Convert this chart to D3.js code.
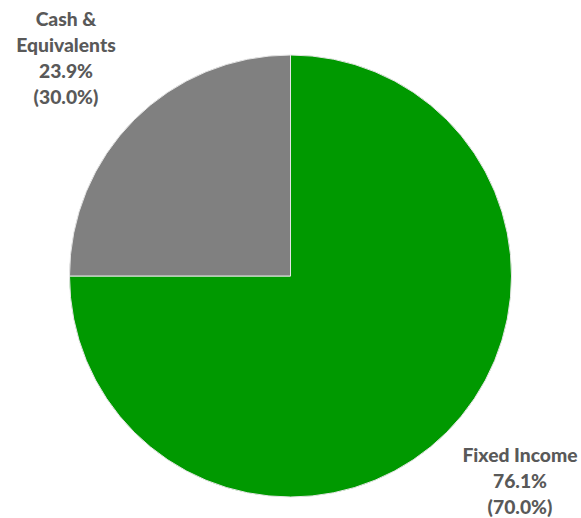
<!DOCTYPE html>
<html lang="en">
<head>
<meta charset="UTF-8">
<title>Allocation Pie</title>
<script src="https://cdn.jsdelivr.net/npm/d3@7"></script>
<style>
  body { margin: 0; background: #fff; }
  .lbl { font-family: "Lato", "Open Sans", sans-serif; font-weight: 900; font-size: 19.3px; fill: #595959; }
</style>
</head>
<body>
<script>
// slice data (drawn shares, labels as printed)
const categories = ["Fixed Income", "Cash & Equivalents"];
const drawnShares = [75, 25];
const actualPct = ["76.1%", "23.9%"];
const targetPct = ["(70.0%)", "(30.0%)"];
const colors = ["#009900", "#808080"];

// label lines per slice
const labelLines = [
  ["Fixed Income", actualPct[0], targetPct[0]],
  ["Cash &", "Equivalents", actualPct[1], targetPct[1]]
];
const labelAnchors = [[520, 462], [66, 26]];

const w = 581, h = 518;
const cx = 290.5, cy = 276, r = 221;

const svg = d3.select("body").append("svg")
  .attr("width", w)
  .attr("height", h);

const pie = d3.pie().sort(null).value(d => d);
const arc = d3.arc().innerRadius(0).outerRadius(r);

const g = svg.append("g").attr("transform", `translate(${cx},${cy})`);

g.selectAll("path")
  .data(pie(drawnShares))
  .enter()
  .append("path")
  .attr("d", arc)
  .attr("fill", (d, i) => colors[i])
  .attr("stroke", "#e6e6e6")
  .attr("stroke-width", 1);

// labels
labelLines.forEach((lines, i) => {
  const t = svg.append("text")
    .attr("class", "lbl")
    .attr("text-anchor", "middle")
    .attr("x", labelAnchors[i][0])
    .attr("y", labelAnchors[i][1]);
  lines.forEach((s, j) => {
    t.append("tspan")
      .attr("x", labelAnchors[i][0])
      .attr("dy", j === 0 ? 0 : 26)
      .text(s);
  });
});
</script>
</body>
</html>
